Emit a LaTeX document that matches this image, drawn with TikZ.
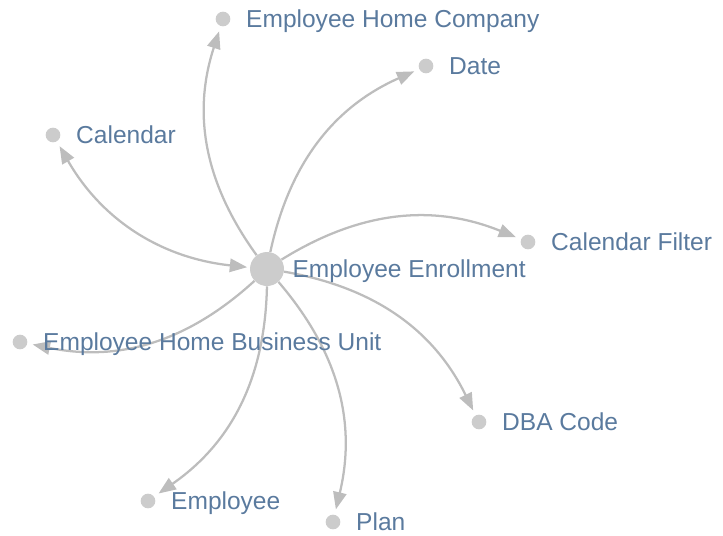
\documentclass[tikz,border=0pt]{standalone}
\usepackage{fontspec}
\setmainfont{Liberation Sans}
\usetikzlibrary{arrows.meta,positioning}
\definecolor{Dot}{HTML}{CCCCCC}
\definecolor{Wire}{HTML}{BDBDBD}
\definecolor{Slate}{HTML}{5A7A9E}
\pgfdeclarelayer{back}
\pgfsetlayers{back,main}

\begin{document}
\begin{tikzpicture}[
  x=0.75pt,y=-0.75pt,
  node distance=11.5pt,
  >={Triangle[length=13pt,width=10pt]},
  hub/.style={circle,fill=Dot,minimum size=25.5pt,inner sep=0pt},
  leaf/.style={circle,fill=Dot,minimum size=11pt,inner sep=0pt},
  lbl/.style={text=Slate,font=\fontsize{18.4}{20}\selectfont,inner sep=0pt,
    text height=13.2pt,text depth=0pt},
  link/.style={->,line width=1.7pt,draw=Wire,bend left=27,shorten >=4pt},
  twoway/.style={link,<->,shorten <=2pt}
]
\useasboundingbox (0,0) rectangle (723,535);
\node[hub] (enroll) at (267,269) {};
\node[lbl,right=6pt of enroll] (tenroll) {Employee Enrollment};
\node[leaf] (company) at (223,19) {};
\node[lbl,right=of company] (tcompany) {Employee Home Company};
\node[leaf] (date) at (426,66) {};
\node[lbl,right=of date] (tdate) {Date};
\node[leaf] (calendar) at (53,135) {};
\node[lbl,right=of calendar] (tcalendar) {Calendar};
\node[leaf] (filter) at (528,242) {};
\node[lbl,right=of filter] (tfilter) {Calendar Filter};
\node[leaf] (unit) at (20,342) {};
\node[lbl,right=of unit] (tunit) {Employee Home Business Unit};
\node[leaf] (dba) at (479,422) {};
\node[lbl,right=of dba] (tdba) {DBA Code};
\node[leaf] (employee) at (148,501) {};
\node[lbl,right=of employee] (temployee) {Employee};
\node[leaf] (plan) at (333,522) {};
\node[lbl,right=of plan] (tplan) {Plan};
% links sit under the dots and labels
\begin{pgfonlayer}{back}
\draw[link] (enroll) to (company);
\draw[link] (enroll) to (date);
\draw[twoway] (enroll) to (calendar);
\draw[link] (enroll) to (filter);
\draw[link] (enroll) to (unit);
\draw[link] (enroll) to (dba);
\draw[link] (enroll) to (employee);
\draw[link] (enroll) to (plan);
\end{pgfonlayer}
\end{tikzpicture}
\end{document}
